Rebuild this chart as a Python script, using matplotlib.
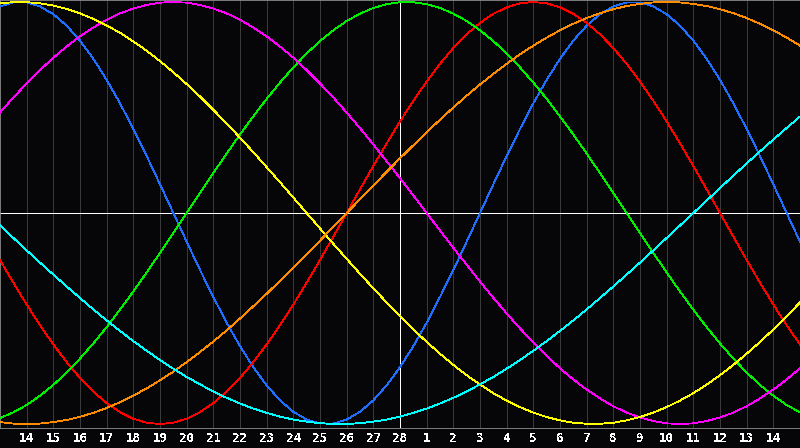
import numpy as np
import matplotlib
matplotlib.use("Agg")
import matplotlib.pyplot as plt

plt.rcParams["text.antialiased"] = False

# Day-of-month tick labels (today = 28, white line)
day_labels = ["14", "15", "16", "17", "18", "19", "20", "21", "22", "23", "24", "25",
              "26", "27", "28", "1", "2", "3", "4", "5", "6", "7", "8", "9", "10",
              "11", "12", "13", "14"]
today_label = "28"

# Samples every half day across the 30-day window (values in thousandths of amplitude)
physical_23 = [979, 998, 998, 979, 942, 888, 817, 731, 631, 520, 398, 270, 136, 0, -136, -270,
               -398, -520, -631, -731, -817, -888, -942, -979, -998, -998, -979, -942, -888,
               -817, -731, -631, -520, -398, -270, -136, 0, 136, 270, 398, 520, 631, 731, 817,
               888, 942, 979, 998, 998, 979, 942, 888, 817, 731, 631, 520, 398, 270, 136, 0, -136]
emotional_28 = [-223, -330, -434, -532, -623, -707, -782, -847, -901, -944, -975, -994, -1000,
                -994, -975, -944, -901, -847, -782, -707, -623, -532, -434, -330, -223, -112, 0,
                112, 223, 330, 434, 532, 623, 707, 782, 847, 901, 944, 975, 994, 1000, 994, 975,
                944, 901, 847, 782, 707, 623, 532, 434, 330, 223, 112, 0, -112, -223, -330, -434,
                -532, -623]
intellectual_33 = [-972, -945, -910, -866, -815, -756, -690, -618, -541, -458, -372, -282, -189,
                   -95, 0, 95, 189, 282, 372, 458, 541, 618, 690, 756, 815, 866, 910, 945, 972,
                   990, 999, 999, 990, 972, 945, 910, 866, 815, 756, 690, 618, 541, 458, 372, 282,
                   189, 95, 0, -95, -189, -282, -372, -458, -541, -618, -690, -756, -815, -866,
                   -910, -945]
intuitive_38 = [476, 547, 614, 677, 736, 789, 837, 879, 916, 946, 969, 986, 997, 1000, 997, 986,
                969, 946, 916, 879, 837, 789, 736, 677, 614, 547, 476, 402, 325, 245, 165, 83, 0,
                -83, -165, -245, -325, -402, -476, -547, -614, -677, -736, -789, -837, -879, -916,
                -946, -969, -986, -997, -1000, -997, -986, -969, -946, -916, -879, -837, -789, -736]
aesthetic_43 = [994, 999, 999, 994, 983, 967, 946, 920, 889, 854, 813, 769, 720, 667, 611, 552,
                489, 424, 357, 288, 217, 146, 73, 0, -73, -146, -217, -288, -357, -424, -489, -552,
                -611, -667, -720, -769, -813, -854, -889, -920, -946, -967, -983, -994, -999, -999,
                -994, -983, -967, -946, -920, -889, -854, -813, -769, -720, -667, -611, -552, -489,
                -424]
awareness_48 = [-991, -998, -1000, -998, -991, -981, -966, -947, -924, -897, -866, -831, -793,
                -752, -707, -659, -609, -556, -500, -442, -383, -321, -259, -195, -131, -65, 0, 65,
                131, 195, 259, 321, 383, 442, 500, 556, 609, 659, 707, 752, 793, 831, 866, 897, 924,
                947, 966, 981, 991, 998, 1000, 998, 991, 981, 966, 947, 924, 897, 866, 831, 793]
spiritual_53 = [-59, -118, -177, -235, -292, -348, -403, -457, -509, -559, -607, -653, -697, -738,
                -777, -812, -846, -876, -903, -927, -947, -965, -979, -989, -996, -1000, -1000,
                -996, -989, -979, -965, -947, -927, -903, -876, -846, -812, -777, -738, -697, -653,
                -607, -559, -509, -457, -403, -348, -292, -235, -177, -118, -59, 0, 59, 118, 177,
                235, 292, 348, 403, 457]

series = [physical_23, emotional_28, intellectual_33, intuitive_38,
          aesthetic_43, awareness_48, spiritual_53]
colors = ["#1e6eff", "#ff0000", "#00ee00", "#ff00ff", "#ffff00", "#ff8c00", "#00ffff"]

days = np.arange(len(physical_23)) / 2.0
tick_pos = np.arange(1, len(day_labels) + 1)
today_pos = tick_pos[day_labels.index(today_label)]

bg = "#060608"
fig = plt.figure(figsize=(8, 4.48), dpi=100, facecolor=bg)
ax = fig.add_axes([0, 20 / 448, 1, 428 / 448])
ax.set_facecolor(bg)
ax.set_xlim(0, len(day_labels) + 1)
ax.set_ylim(-1.019, 1.0095)

for k in tick_pos:
    ax.axvline(k, color="#3a3a3a", lw=0.6, antialiased=False, zorder=1)
ax.axvline(today_pos, color="white", lw=0.6, antialiased=False, zorder=2)
ax.axhline(0, color="white", lw=0.6, antialiased=False, zorder=2)

for vals, c in zip(series, colors):
    ax.plot(days, np.array(vals) / 1000.0, color=c, lw=0.6, antialiased=False, zorder=3)

ax.set_xticks(tick_pos)
ax.set_xticklabels(day_labels, color="white", fontsize=9, fontweight="bold",
                   family="DejaVu Sans Mono")
ax.tick_params(axis="x", length=0, pad=3)
ax.set_yticks([])
for s in ["top", "left", "bottom"]:
    ax.spines[s].set_color("#909090")
    ax.spines[s].set_linewidth(0.6)
ax.spines["right"].set_visible(False)

fig.savefig("out.png", dpi=100, facecolor=bg)
